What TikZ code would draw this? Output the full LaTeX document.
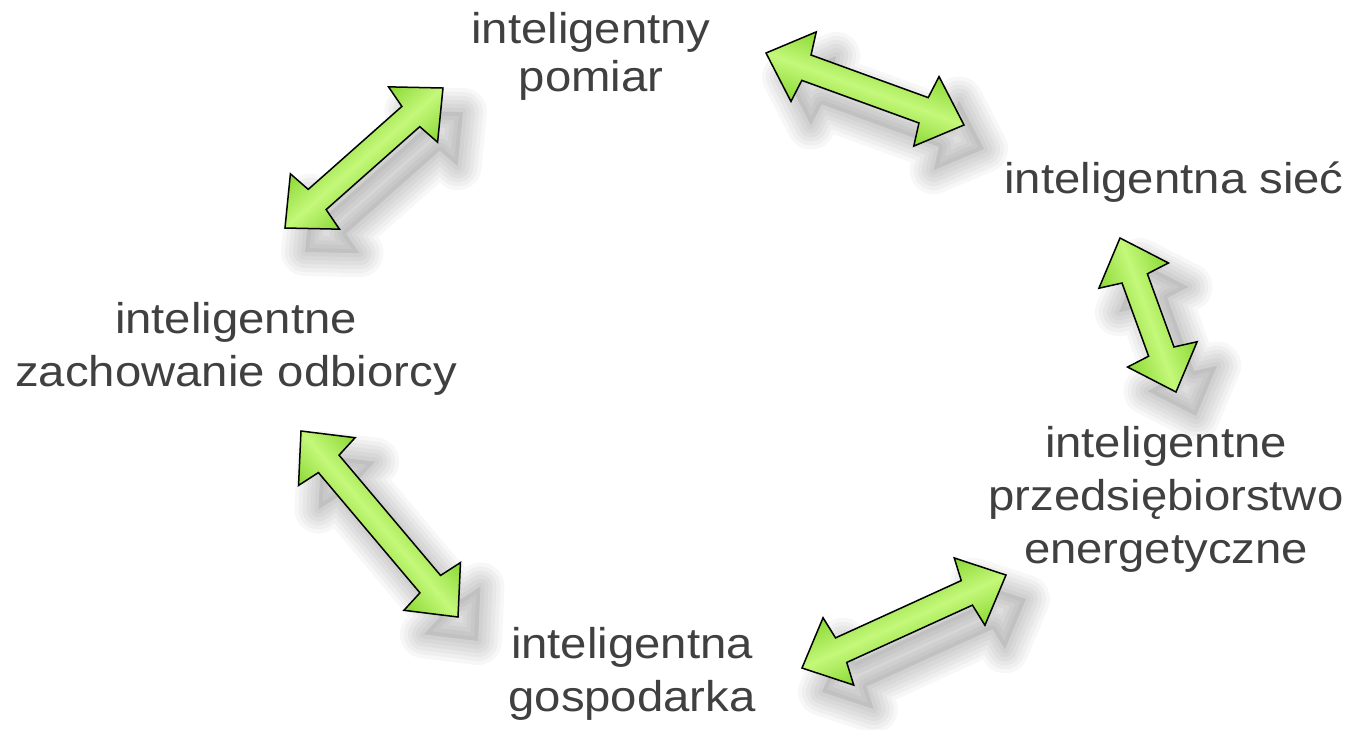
\documentclass[tikz,border=0pt]{standalone}
\usepackage{fontspec}
\setmainfont{Liberation Sans}[FakeStretch=1.1]
\usetikzlibrary{calc}
\definecolor{txt}{RGB}{64,64,64}
\definecolor{gedge}{RGB}{138,216,52}
\definecolor{gmid}{RGB}{196,248,122}
\tikzset{
  lbl/.style={anchor=north, inner sep=0pt, align=center, text=txt, font=\fontsize{43}{53}\selectfont},
  arrowline/.style={line width=1.5pt, line join=miter, draw=black},
  shadowlayer/.style={draw=black, draw opacity=0.03, line join=round},
}
\newcommand\arshape{(0,0) -- (40,37) -- (43,13.5) -- ({\arlen-43},13.5) -- ({\arlen-40},37) -- (\arlen,0) -- ({\arlen-40},-37) -- ({\arlen-43},-13.5) -- (43,-13.5) -- (40,-37) -- cycle}
\newcommand\blockarrow[2]{%
  \path let \p1=($(#2)-(#1)$), \p2=(#1) in \pgfextra{%
    \pgfmathsetmacro\tmpa{atan2(\y1,\x1)}\xdef\arang{\tmpa}%
    \pgfmathsetmacro\tmpb{veclen(\x1,\y1)}\xdef\arlen{\tmpb}%
    \pgfmathsetmacro\tmpc{\x2}\xdef\arx{\tmpc}%
    \pgfmathsetmacro\tmpd{\y2}\xdef\ary{\tmpd}};
  \begin{scope}[shift={(#1)}, xshift=20pt, yshift=-24pt, rotate=\arang]
    \fill[black, opacity=0.07] \arshape;
    \foreach \w in {48,40,32,24,16,8}{\draw[shadowlayer, line width=\w pt] \arshape;}
  \end{scope}
  \begin{scope}[transform canvas={shift={(\arx pt,\ary pt)}, rotate=\arang}]
    \shade[top color=gedge, bottom color=gedge, middle color=gmid] \arshape;
    \draw[arrowline] \arshape;
  \end{scope}
}
\begin{document}
\begin{tikzpicture}[x=1pt, y=-1pt]
\useasboundingbox (0,0) rectangle (1353,729);
\fill[white] (0,0) rectangle (1353,729);
% arrow end points
\coordinate (a1s) at (766,53);   \coordinate (a1e) at (964,125);
\coordinate (a2s) at (285,228);  \coordinate (a2e) at (443,88);
\coordinate (a3s) at (1120,238); \coordinate (a3e) at (1176,392);
\coordinate (a4s) at (301,431);  \coordinate (a4e) at (458,617);
\coordinate (a5s) at (802,668);  \coordinate (a5e) at (1006,575);
\blockarrow{a1s}{a1e}
\blockarrow{a2s}{a2e}
\blockarrow{a3s}{a3e}
\blockarrow{a4s}{a4e}
\blockarrow{a5s}{a5e}
% labels
\node[lbl, font=\fontsize{43}{48}\selectfont] (meter) at (591,12.2) {inteligentny\\pomiar};
\node[lbl] (grid) at (1174,162) {inteligentna sieć};
\node[lbl] (consumer) at (236,302) {inteligentne\\zachowanie odbiorcy};
\node[lbl] (utility) at (1166,426) {inteligentne\\przedsiębiorstwo\\energetyczne};
\node[lbl] (economy) at (632,627) {inteligentna\\gospodarka};
\end{tikzpicture}
\end{document}
